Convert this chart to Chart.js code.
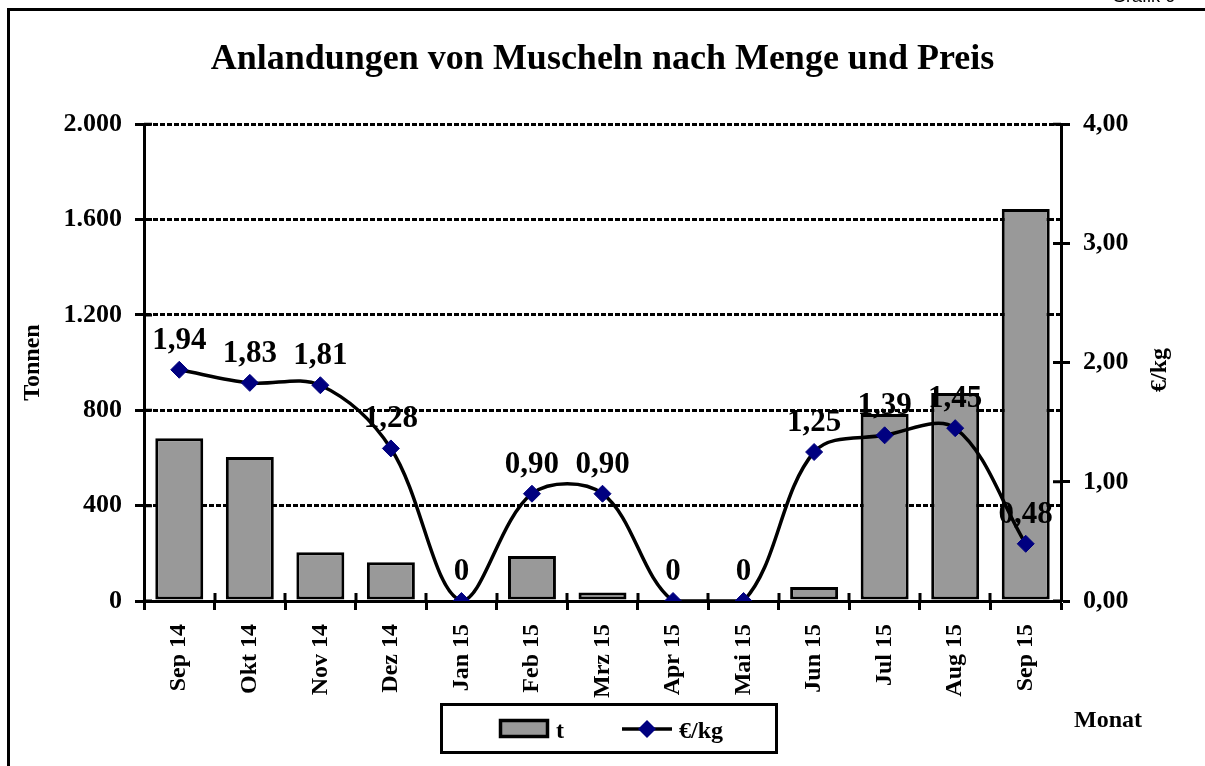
<!DOCTYPE html>
<html>
<head>
<meta charset="utf-8">
<script src="https://cdn.jsdelivr.net/npm/chart.js@4"></script>
<style>
  html, body { margin: 0; padding: 0; background: #fff; overflow: hidden; }
  #wrap { position: relative; width: 1205px; height: 766px; }
  #grafik { position: absolute; left: 1112px; top: -14px; font: 18px "Liberation Sans", Arial, sans-serif; color: #000; white-space: nowrap; }
</style>
</head>
<body>
<div id="wrap">
  <canvas id="chart" width="1205" height="766"></canvas>
  <div id="grafik">Grafik 6</div>
</div>
<script>
const months = ["Sep 14", "Okt 14", "Nov 14", "Dez 14", "Jan 15", "Feb 15", "Mrz 15", "Apr 15", "Mai 15", "Jun 15", "Jul 15", "Aug 15", "Sep 15"];
const tonnen = [683, 604, 205, 163, 0, 189, 36, 0, 0, 59, 784, 872, 1644];
const preis = [1.94, 1.83, 1.81, 1.28, 0, 0.90, 0.90, 0, 0, 1.25, 1.39, 1.45, 0.48];
const tonnenTicks = ["0", "400", "800", "1.200", "1.600", "2.000"];
const preisTicks = ["0,00", "1,00", "2,00", "3,00", "4,00"];

const serif = "'Liberation Serif', 'Times New Roman', serif";

function fmtPreis(v) {
  return v === 0 ? "0" : v.toFixed(2).replace(".", ",");
}

function diamond(ctx, x, y, r) {
  ctx.beginPath();
  ctx.moveTo(x - r, y);
  ctx.lineTo(x, y - r);
  ctx.lineTo(x + r, y);
  ctx.lineTo(x, y + r);
  ctx.closePath();
  ctx.fill();
}

// frame, labels, legend and the bits Chart.js can't do itself
const extras = {
  id: "extras",
  beforeDraw(chart) {
    const ctx = chart.ctx;
    ctx.save();
    ctx.strokeStyle = "#000";
    ctx.lineWidth = 3;
    ctx.strokeRect(8.5, 9.5, 1400, 900);
    ctx.restore();
  },
  afterDatasetsDraw(chart) {
    const ctx = chart.ctx;
    const meta = chart.getDatasetMeta(1);
    ctx.save();
    ctx.font = "bold 31px " + serif;
    ctx.fillStyle = "#000";
    ctx.textAlign = "center";
    ctx.textBaseline = "alphabetic";
    meta.data.forEach((pt, i) => {
      ctx.fillText(fmtPreis(preis[i]), pt.x, pt.y - 21);
    });
    ctx.restore();
  },
  afterDraw(chart) {
    const ctx = chart.ctx;
    const area = chart.chartArea;
    const yl = chart.scales.y, yr = chart.scales.y1;
    ctx.save();
    ctx.strokeStyle = "#000";
    ctx.lineWidth = 3;
    // inner halves of tick marks
    ctx.beginPath();
    const step = (area.right - area.left) / months.length;
    for (let i = 1; i < months.length; i++) {
      const px = Math.round(area.left + i * step);
      ctx.moveTo(px, area.bottom - 8);
      ctx.lineTo(px, area.bottom);
    }
    yl.ticks.forEach(t => {
      const py = yl.getPixelForValue(t.value);
      ctx.moveTo(area.left, py);
      ctx.lineTo(area.left + 8, py);
    });
    yr.ticks.forEach(t => {
      const py = yr.getPixelForValue(t.value);
      ctx.moveTo(area.right - 8, py);
      ctx.lineTo(area.right, py);
    });
    ctx.stroke();

    // right axis title, reading upwards
    ctx.fillStyle = "#000";
    ctx.font = "bold 24px " + serif;
    ctx.textAlign = "center";
    ctx.textBaseline = "middle";
    ctx.save();
    ctx.translate(1160, 370);
    ctx.rotate(-Math.PI / 2);
    ctx.fillText("€/kg", 0, 0);
    ctx.restore();

    // x axis title
    ctx.fillText("Monat", 1108, 721);

    // legend
    ctx.lineWidth = 3;
    ctx.strokeRect(441.5, 704.5, 335, 48);
    ctx.fillStyle = "#999999";
    ctx.fillRect(500, 720, 48, 17);
    ctx.lineWidth = 3.5;
    ctx.strokeRect(500.5, 720.5, 47, 16);
    ctx.beginPath();
    ctx.moveTo(622, 729);
    ctx.lineTo(672, 729);
    ctx.stroke();
    ctx.fillStyle = "#000080";
    diamond(ctx, 647, 729, 9);
    ctx.fillStyle = "#000";
    ctx.textAlign = "left";
    ctx.textBaseline = "alphabetic";
    ctx.fillText("t", 556, 738);
    ctx.fillText("€/kg", 679, 738);
    ctx.restore();
  }
};

new Chart(document.getElementById("chart"), {
  type: "bar",
  data: {
    labels: months,
    datasets: [
      {
        type: "bar",
        label: "t",
        data: tonnen,
        yAxisID: "y",
        backgroundColor: "#999999",
        borderColor: "#000",
        borderWidth: 3,
        borderSkipped: false,
        barPercentage: 0.68,
        categoryPercentage: 1,
        order: 2,
      },
      {
        type: "line",
        label: "€/kg",
        data: preis,
        yAxisID: "y1",
        borderColor: "#000",
        borderWidth: 3.5,
        tension: 0.35,
        pointStyle: "rectRot",
        pointRadius: 8.5,
        pointBackgroundColor: "#000080",
        pointBorderColor: "#000080",
        pointBorderWidth: 1,
        order: 1,
      },
    ],
  },
  options: {
    responsive: false,
    animation: false,
    layout: { padding: 0 },
    plugins: {
      legend: { display: false },
      tooltip: { enabled: false },
      title: {
        display: true,
        text: "Anlandungen von Muscheln nach Menge und Preis",
        color: "#000",
        font: { family: serif, size: 36, weight: "bold" },
        padding: { top: 38, bottom: 43 },
      },
    },
    scales: {
      x: {
        offset: true,
        grid: { display: true, drawOnChartArea: false, drawTicks: true, tickLength: 9, tickWidth: 3, tickColor: "#000", offset: true },
        border: { display: true, color: "#000", width: 3 },
        ticks: {
          color: "#000",
          font: { family: serif, size: 24, weight: "bold" },
          minRotation: 90,
          maxRotation: 90,
          padding: 14,
          autoSkip: false,
        },
        afterFit(scale) { scale.height = 165; },
      },
      y: {
        position: "left",
        min: 0,
        max: 2000,
        ticks: {
          stepSize: 400,
          color: "#000",
          padding: 13,
          font: { family: serif, size: 26, weight: "bold" },
          callback: (v, i) => tonnenTicks[i],
        },
        grid: { color: "#000", lineWidth: 3, tickLength: 9, tickWidth: 3, tickColor: "#000", tickBorderDash: [] },
        border: { display: true, color: "#000", width: 3, dash: [5, 2] },
        title: {
          display: true,
          text: "Tonnen",
          color: "#000",
          font: { family: serif, size: 24, weight: "bold" },
          padding: { top: 18, bottom: 0 },
        },
        afterFit(scale) { scale.width = 144; },
      },
      y1: {
        position: "right",
        min: 0,
        max: 4,
        ticks: {
          stepSize: 1,
          color: "#000",
          padding: 13,
          font: { family: serif, size: 26, weight: "bold" },
          callback: (v, i) => preisTicks[i],
        },
        grid: { drawOnChartArea: false, tickLength: 9, tickWidth: 3, tickColor: "#000" },
        border: { display: true, color: "#000", width: 3 },
        afterFit(scale) { scale.width = 144; },
      },
    },
  },
  plugins: [extras],
});
</script>
</body>
</html>
